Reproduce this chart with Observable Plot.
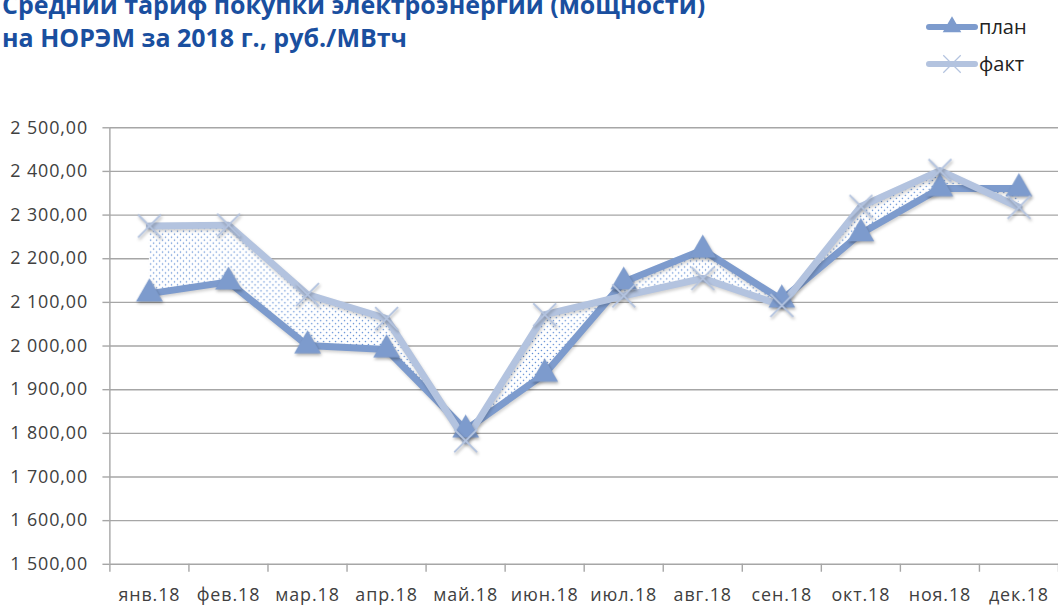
<!DOCTYPE html>
<html>
<head>
<meta charset="utf-8">
<script src="https://cdn.jsdelivr.net/npm/d3@7"></script>
<script src="https://cdn.jsdelivr.net/npm/@observablehq/plot@0.6"></script>
<style>
  html, body { margin: 0; padding: 0; background: #fff; overflow: hidden; width: 1058px; height: 608px; }
  #wrap { position: relative; width: 1058px; height: 608px; overflow: hidden; }
  #title { position: absolute; left: 2px; top: -12px; font-family: "Open Sans", sans-serif; font-weight: 700; font-size: 25px; line-height: 33px; color: #1a4f9f; white-space: nowrap; }
  #legend { position: absolute; left: 925px; top: 8px; font-family: "Open Sans", sans-serif; font-size: 20px; color: #222; }
  .li { display: flex; align-items: center; height: 37px; }
  .li svg { display: block; }
  #chart { position: absolute; left: 0; top: 0; }
  #chart g[aria-label="dot"] { filter: drop-shadow(1px 2px 1.5px rgba(0,0,0,0.3)); }
  #chart g[aria-label="line"] { filter: drop-shadow(1px 2px 1.5px rgba(0,0,0,0.18)); }
  #chart g[aria-label="y-axis tick label"] text, #chart g[aria-label="x-axis tick label"] text { letter-spacing: 0.9px; }
</style>
</head>
<body>
<div id="wrap">
  <div id="chart"></div>
  <div id="title">Средний тариф покупки электроэнергии (мощности)<br>на НОРЭМ за 2018 г., руб./МВтч</div>
  <div id="legend"></div>
</div>
<script>
const months = ["янв.18", "фев.18", "мар.18", "апр.18", "май.18", "июн.18", "июл.18", "авг.18", "сен.18", "окт.18", "ноя.18", "дек.18"];
const plan = [2120, 2147, 2001, 1992, 1808, 1936, 2147, 2220, 2106, 2258, 2361, 2361];
const fact = [2275, 2277, 2118, 2063, 1783, 2072, 2115, 2155, 2093, 2320, 2402, 2318];
const yTicks = [1500, 1600, 1700, 1800, 1900, 2000, 2100, 2200, 2300, 2400, 2500];
const seriesNames = ["план", "факт"];

const planColor = "#7d9bcd";
const factColor = "#b3c3df";
const gridColor = "#a6a6a6";

const data = months.map((m, i) => ({i, month: m, plan: plan[i], fact: fact[i]}));
const boundaries = d3.range(months.length + 1).map(i => ({pos: i - 0.5, base: yTicks[0]}));
const fmt = d3.formatLocale({decimal: ",", thousands: " ", grouping: [3], currency: ["", ""]}).format(",.2f");

const chart = Plot.plot({
  width: 1064,
  height: 608,
  marginTop: 128,
  marginBottom: 41,
  marginLeft: 110,
  marginRight: 0,
  style: {fontFamily: "'Open Sans', sans-serif", fontSize: "18px", color: "#404040", background: "transparent", overflow: "visible"},
  x: {type: "linear", domain: [-0.5, 11.5], axis: null},
  y: {domain: [1500, 2500], axis: null},
  marks: [
    Plot.ruleY(yTicks.slice(1), {stroke: gridColor, strokeWidth: 1.4}),
    Plot.axisY({ticks: yTicks, tickFormat: fmt, tickSize: 7, tickPadding: 15, stroke: gridColor, strokeWidth: 1.4, fill: "#404040"}),
    Plot.ruleX([-0.5], {stroke: gridColor, strokeWidth: 1.4}),
    Plot.ruleY([1500], {stroke: gridColor, strokeWidth: 1.4}),
    Plot.axisX({ticks: d3.range(12), tickFormat: i => months[i], tickSize: 0, tickPadding: 24, fill: "#404040"}),
    Plot.ruleX(boundaries, {x: "pos", y1: "base", y2: "base", insetBottom: -8, stroke: gridColor, strokeWidth: 1.4}),
    Plot.areaY(data, {x: "i", y1: "plan", y2: "fact", fill: "url(#dots)"}),
    Plot.line(data, {x: "i", y: "plan", stroke: planColor, strokeWidth: 7, strokeLinejoin: "round"}),
    Plot.line(data, {x: "i", y: "fact", stroke: factColor, strokeWidth: 7, strokeLinejoin: "round"}),
    Plot.dot(data, {x: "i", y: "plan", symbol: "triangle", r: 10, fill: planColor, stroke: "none"}),
    Plot.dot(data, {x: "i", y: "fact", symbol: "times", r: 10.5, stroke: factColor, strokeWidth: 1.8, fill: "none"})
  ]
});

const ns = "http://www.w3.org/2000/svg";
const defs = document.createElementNS(ns, "defs");
defs.innerHTML = `<pattern id="dots" patternUnits="userSpaceOnUse" width="6" height="6">
  <rect width="6" height="6" fill="#ffffff"/>
  <circle cx="1.5" cy="1.5" r="0.75" fill="#5b8ad3"/>
  <circle cx="4.5" cy="4.5" r="0.75" fill="#5b8ad3"/>
</pattern>`;
chart.insertBefore(defs, chart.firstChild);
document.getElementById("chart").appendChild(chart);

// legend
const legend = document.getElementById("legend");
const legendItems = [
  {name: seriesNames[0], color: planColor, symbol: "triangle"},
  {name: seriesNames[1], color: factColor, symbol: "times"}
];
legendItems.forEach(it => {
  const row = document.createElement("div");
  row.className = "li";
  const s = d3.create("svg").attr("width", 54).attr("height", 24);
  s.append("line").attr("x1", 4).attr("x2", 50).attr("y1", 12).attr("y2", 12)
    .attr("stroke", it.color).attr("stroke-width", 6).attr("stroke-linecap", "round");
  if (it.symbol === "triangle") {
    s.append("path").attr("d", d3.symbol(d3.symbolTriangle, 150)()).attr("transform", "translate(27,12)").attr("fill", it.color);
  } else {
    s.append("path").attr("d", d3.symbol(d3.symbolTimes, 200)()).attr("transform", "translate(27,12)").attr("fill", "none").attr("stroke", it.color).attr("stroke-width", 1.2);
  }
  row.appendChild(s.node());
  const t = document.createElement("span");
  t.textContent = it.name;
  row.appendChild(t);
  legend.appendChild(row);
});
</script>
</body>
</html>
